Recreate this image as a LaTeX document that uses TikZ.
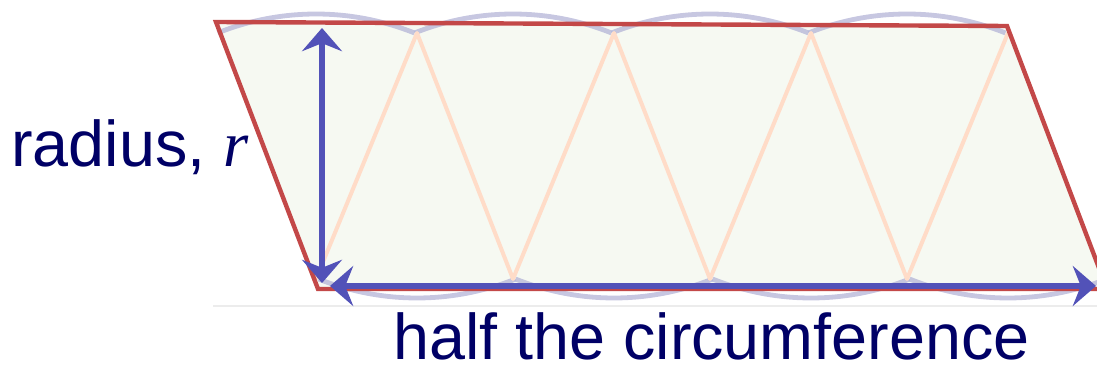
\documentclass[tikz,border=0pt]{standalone}
\usepackage{fontspec}
\setmainfont{Liberation Sans}
\newfontfamily\timesfont{Liberation Serif}
\usetikzlibrary{arrows.meta}
\definecolor{navy}{RGB}{0,0,102}
\definecolor{fillgreen}{RGB}{246,249,242}
\definecolor{arcblue}{RGB}{180,180,215}
\definecolor{peach}{RGB}{255,220,200}
\definecolor{edgered}{RGB}{195,72,72}
\definecolor{arrowblue}{RGB}{82,82,184}
\definecolor{faint}{RGB}{236,236,236}
\tikzset{
  arcstyle/.style={draw=arcblue, line width=0.12cm, opacity=0.75},
  zigzag/.style={draw=peach, line width=0.1cm},
  redline/.style={draw=edgered, line width=0.11cm},
  bluearrow/.style={draw=arrowblue, line width=0.15cm,
    {Stealth[length=0.58cm,width=1.0cm,inset=0.2cm]}-{Stealth[length=0.58cm,width=1.0cm,inset=0.2cm]}},
  label/.style={anchor=base west, inner sep=0pt, text=navy, font=\fontsize{46}{55}\selectfont}
}
\begin{document}
\begin{tikzpicture}[x=0.025cm,y=0.025cm]
\useasboundingbox (0,0) rectangle (1097,-366);
\clip (0,0) rectangle (1097,-366);
% parallelogram corners
\coordinate (p1) at (216,-22);
\coordinate (p2) at (1007,-26);
\coordinate (p3) at (1107,-289);
\coordinate (p4) at (318,-289);
\fill[fillgreen] (p1) -- (p2) -- (p3) -- (p4) -- cycle;
% faint base line
\coordinate (g1) at (213,-306);
\coordinate (g2) at (1097,-306);
\draw[faint, line width=0.03cm] (g1) -- (g2);
% arcs
\foreach \cx in {316,513,710,907}{
  \draw[arcstyle] (\cx,-279) ++(68.2:265) arc[start angle=68.2,end angle=111.8,radius=265];
}
\foreach \cx in {417,614,811,1008}{
  \draw[arcstyle] (\cx,-33) ++(248.2:265) arc[start angle=248.2,end angle=291.8,radius=265];
}
% zigzag
\coordinate (b0) at (316,-279);
\coordinate (t1) at (417,-33);
\coordinate (b1) at (513,-279);
\coordinate (t2) at (614,-33);
\coordinate (b2) at (710,-279);
\coordinate (t3) at (811,-33);
\coordinate (b3) at (907,-279);
\coordinate (t4) at (1008,-33);
\draw[zigzag, line join=round] (b0) -- (t1) -- (b1) -- (t2) -- (b2) -- (t3) -- (b3) -- (t4);
% red outline
\draw[redline] (p1) -- (p2) -- (p3) -- (p4) -- cycle;
% blue arrows
\coordinate (vt) at (322,-28);
\coordinate (vb) at (322,-283);
\coordinate (hl) at (330,-286);
\coordinate (hr) at (1096,-286);
\draw[bluearrow] (vb) -- (vt);
\draw[bluearrow] (hl) -- (hr);
% labels
\node[label] (rad) at (11,-167) {radius, {\timesfont\itshape r}};
\node[label] (half) at (393,-359) {half the circumference};
\end{tikzpicture}
\end{document}
